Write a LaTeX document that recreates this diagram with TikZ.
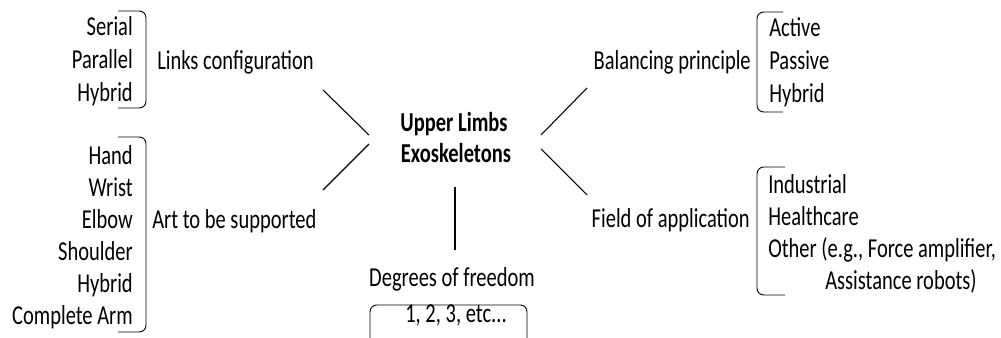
\documentclass[tikz,border=0pt]{standalone}
\usepackage{fontspec}
\setmainfont[FakeStretch=0.75]{Carlito}
\usetikzlibrary{positioning}

\tikzset{
  txt/.style={inner sep=0pt, font=\fontsize{20.5}{24}\selectfont},
  ttl/.style={inner sep=0pt, font=\fontsize{20.5}{24}\selectfont\bfseries},
  spoke/.style={line width=0.8pt},
  brack/.style={line width=0.7pt, rounded corners=5pt},
}

\begin{document}
\begin{tikzpicture}[x=0.75pt, y=-0.75pt]
  \useasboundingbox (0,0) rectangle (1001,338);

  % centre
  \node[ttl, anchor=base] (upper) at (454,132) {Upper Limbs};
  \node[ttl, anchor=base] (exo) at (456,163) {Exoskeletons};

  % categories
  \node[txt, anchor=base west] (links) at (157,70) {Links configuration};
  \node[txt, anchor=base west] (art) at (152,229) {Art to be supported};
  \node[txt, anchor=base east] (balance) at (751,70) {Balancing principle};
  \node[txt, anchor=base east] (field) at (750,228) {Field of application};
  \node[txt, anchor=base] (dof) at (452,287) {Degrees of freedom};

  % lists
  \foreach \t [count=\i] in {Serial,Parallel,Hybrid}
    \node[txt, anchor=base east] (conf\i) at (133,3+33*\i) {\t};
  \foreach \t [count=\i] in {Hand,Wrist,Elbow,Shoulder,Hybrid,Complete Arm}
    \node[txt, anchor=base east] (part\i) at (133,133+32*\i) {\t};
  \foreach \t [count=\i] in {Active,Passive,Hybrid}
    \node[txt, anchor=base west] (bal\i) at (769,4+33*\i) {\t};
  \foreach \t [count=\i] in {Industrial,Healthcare,{Other (e.g., Force amplifier,}}
    \node[txt, anchor=base west] (app\i) at (768,162+32*\i) {\t};
  \node[txt, anchor=base west] (app4) at (825,290) {Assistance robots)};
  \node[txt, anchor=base] (dofval) at (456,323) {1, 2, 3, etc...};

  % spokes
  \coordinate (ul-a) at (323,90);  \coordinate (ul-b) at (369,135);
  \coordinate (ll-a) at (323,190); \coordinate (ll-b) at (369,144);
  \coordinate (ur-a) at (587,88);  \coordinate (ur-b) at (541,135);
  \coordinate (lr-a) at (587,195); \coordinate (lr-b) at (541,149);
  \coordinate (dn-a) at (455,187); \coordinate (dn-b) at (455,250);
  \draw[spoke] (ul-a) -- (ul-b);
  \draw[spoke] (ll-a) -- (ll-b);
  \draw[spoke] (ur-a) -- (ur-b);
  \draw[spoke] (lr-a) -- (lr-b);
  \draw[spoke] (dn-a) -- (dn-b);

  % brackets
  \draw[brack] (118,11) -- (146,11) -- (146,108) -- (118,108);
  \draw[brack] (118,137) -- (146,137) -- (146,332) -- (118,332);
  \draw[brack] (783,12) -- (757,12) -- (757,112) -- (783,112);
  \draw[brack] (785,167) -- (757,167) -- (757,295) -- (785,295);
  \draw[brack] (370,340) -- (370,305) -- (527,305) -- (527,340);
\end{tikzpicture}
\end{document}
